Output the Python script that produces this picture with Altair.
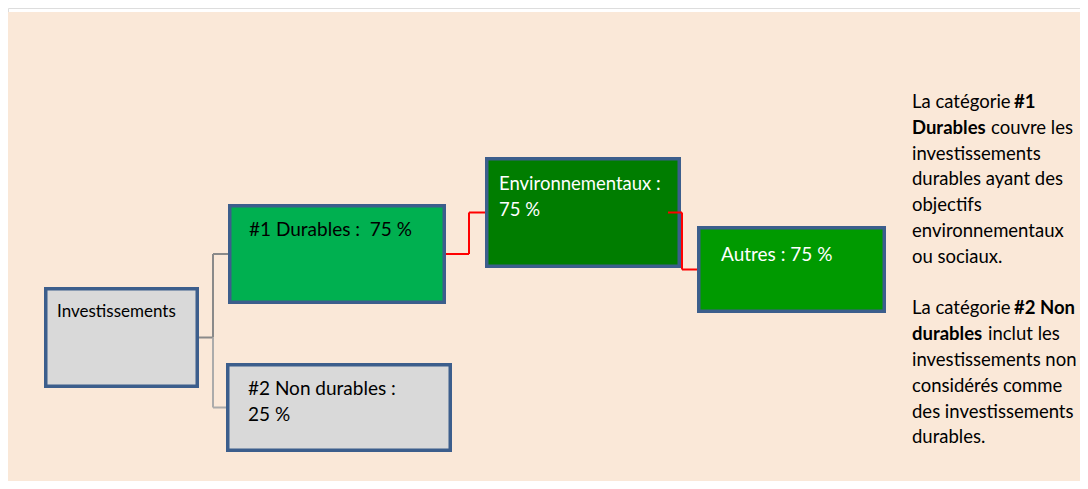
import altair as alt
import pandas as pd

# ---------------- data ----------------
categories = ["Investissements", "#1 Durables", "#2 Non durables", "Environnementaux", "Autres"]
shares = [None, 75, 25, 75, 75]          # percent shown in each box
parents = [None, "Investissements", "Investissements", "#1 Durables", "Environnementaux"]

note_lines = [
    [("La catégorie ", False), ("#1", True)],
    [("Durables", True), (" couvre les", False)],
    [("investissements", False)],
    [("durables ayant des", False)],
    [("objectifs", False)],
    [("environnementaux", False)],
    [("ou sociaux.", False)],
    [],
    [("La catégorie ", False), ("#2 Non", True)],
    [("durables", True), (" inclut les", False)],
    [("investissements non", False)],
    [("considérés comme", False)],
    [("des investissements", False)],
    [("durables.", False)],
]

# ---------------- layout (pixels of the 1088x489 page) ----------------
W, H = 1072, 473
PX, PY = 8, 8
box_geom = {  # outer edges x0, x1, y0, y1
    "Investissements": (44, 199, 287, 388),
    "#1 Durables": (228, 446, 204, 304),
    "#2 Non durables": (226, 452, 363, 452),
    "Environnementaux": (485, 681, 157, 268),
    "Autres": (697, 886, 226, 313),
}
box_fill = {
    "Investissements": "#D9D9D9",
    "#1 Durables": "#00B050",
    "#2 Non durables": "#D9D9D9",
    "Environnementaux": "#007D00",
    "Autres": "#009A00",
}
text_color = {
    "Investissements": "#000000",
    "#1 Durables": "#000000",
    "#2 Non durables": "#000000",
    "Environnementaux": "#FFFFFF",
    "Autres": "#FFFFFF",
}
# text x, first baseline, font size, line break style
text_pos = {
    "Investissements": (57, 317, 17, None),
    "#1 Durables": (249, 236, 19, "one"),
    "#2 Non durables": (248, 395, 19, "two"),
    "Environnementaux": (499, 190, 18.5, "two"),
    "Autres": (721, 261, 19, "one"),
}
line_gap = 26
conn_geom = {  # child: (start x, elbow x, colour)
    "#1 Durables": (199, 213, "#8A8A8A"),
    "#2 Non durables": (213, 213, "#ABABAB"),
    "Environnementaux": (446, 469, "#FF0000"),
    "Autres": (668, 682, "#FF0000"),
}
note_x = {0: [912, 1014], 1: [912, 991], 8: [912, 1014], 9: [912, 988]}
note_x0, note_y0, note_gap, note_fs = 912, 108, 25.8, 18.5

FONT = "Lato"
BORDER = "#3C5E8C"

# ---------------- tables ----------------
bw = 3.5
boxes = pd.DataFrame([
    dict(name=c, x=box_geom[c][0] + bw / 2, x2=box_geom[c][1] - bw / 2,
         y=box_geom[c][2] + bw / 2, y2=box_geom[c][3] - bw / 2, fill=box_fill[c])
    for c in categories
])

segs = []
for c, p in zip(categories, parents):
    if p is None:
        continue
    sx, ex, col = conn_geom[c]
    py = (box_geom[p][2] + box_geom[p][3]) / 2
    cy = (box_geom[c][2] + box_geom[c][3]) / 2
    cx = box_geom[c][0]
    if sx != ex:
        segs.append(dict(x=sx, x2=ex, y=py, y2=py, col=col))
    segs.append(dict(x=ex, x2=ex, y=py, y2=cy, col=col))
    segs.append(dict(x=ex, x2=cx, y=cy, y2=cy, col=col))
segs = pd.DataFrame(segs)

NB = "\u00a0"
texts = []
for c, v in zip(categories, shares):
    tx, ty, fs, style = text_pos[c]
    if v is None:
        lines = [c]
    elif style == "one":
        sep = " :" + NB + NB if c.startswith("#1") else " : "
        lines = [f"{c}{sep}{v}{NB}%"]
    else:
        lines = [f"{c} :", f"{v}{NB}%"]
    for i, ln in enumerate(lines):
        texts.append(dict(x=tx, y=ty + i * line_gap, t=ln, col=text_color[c], fs=fs, bold=False))

for i, line in enumerate(note_lines):
    xs_ = note_x.get(i, [note_x0])
    for j, (seg, bold) in enumerate(line):
        texts.append(dict(x=xs_[j], y=note_y0 + i * note_gap, t=seg.strip(), col="#000000",
                          fs=note_fs, bold=bold))
texts = pd.DataFrame(texts)

bg = pd.DataFrame([dict(x=8, x2=1088, y=12, y2=489)])

# ---------------- chart ----------------
xs = alt.Scale(domain=[PX, PX + W], nice=False, zero=False)
ys = alt.Scale(domain=[PY, PY + H], nice=False, zero=False, reverse=True)


def X(f):
    return alt.X(f, type="quantitative", scale=xs, axis=None)


def Y(f):
    return alt.Y(f, type="quantitative", scale=ys, axis=None)


background = alt.Chart(bg).mark_rect(color="#FAE8D8", clip=True).encode(
    x=X("x"), x2="x2", y=Y("y"), y2="y2")

box_layer = alt.Chart(boxes).mark_rect(stroke=BORDER, strokeWidth=bw).encode(
    x=X("x"), x2="x2", y=Y("y"), y2="y2",
    fill=alt.Fill("fill:N", scale=None))

conn_layer = alt.Chart(segs).mark_rule(strokeWidth=2).encode(
    x=X("x"), x2="x2", y=Y("y"), y2="y2",
    color=alt.Color("col:N", scale=None))

reg = alt.Chart(texts[~texts.bold]).mark_text(
    align="left", baseline="alphabetic", font=FONT).encode(
    x=X("x"), y=Y("y"), text="t:N",
    color=alt.Color("col:N", scale=None), size=alt.Size("fs:Q", scale=None))

bold = alt.Chart(texts[texts.bold]).mark_text(
    align="left", baseline="alphabetic", font=FONT, fontWeight="bold").encode(
    x=X("x"), y=Y("y"), text="t:N",
    color=alt.Color("col:N", scale=None), size=alt.Size("fs:Q", scale=None))

chart = alt.layer(background, box_layer, conn_layer, reg, bold).properties(
    width=W, height=H, padding=0, autosize=alt.AutoSizeParams(type="none")
).configure_view(stroke=None).configure(background="white")

chart.save("out.html", embed_options={"renderer": "svg", "actions": False})
